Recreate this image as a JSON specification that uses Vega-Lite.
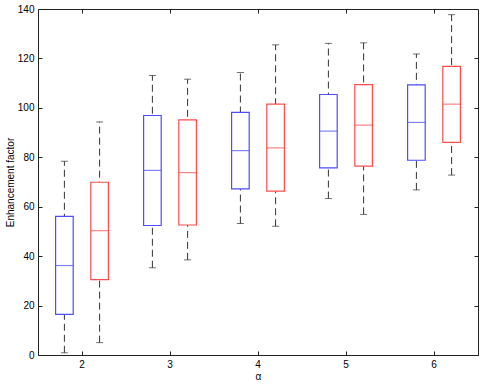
{
  "$schema": "https://vega.github.io/schema/vega-lite/v6.json",
  "width": 440,
  "height": 346,
  "autosize": "none",
  "padding": {"left": 38, "top": 9, "right": 4, "bottom": 30},
  "config": {
    "view": {"stroke": "#222", "strokeWidth": 1},
    "font": "Liberation Sans",
    "axis": {"labelFont": "Liberation Sans", "titleFont": "Liberation Sans", "labelFontSize": 10, "titleFontSize": 10, "titleFontWeight": "normal", "labelColor": "#000", "titleColor": "#000", "tickColor": "#222", "domain": false, "grid": false, "tickSize": -4}
  },
  "data": {"values": [
    {"alpha": "2", "series": "s1", "lower": 0.9, "q1": 16.4, "median": 36.2, "q3": 56.1, "upper": 78.4},
    {"alpha": "2", "series": "s2", "lower": 5.0, "q1": 30.5, "median": 50.3, "q3": 69.9, "upper": 94.3},
    {"alpha": "3", "series": "s1", "lower": 35.3, "q1": 52.4, "median": 74.7, "q3": 96.9, "upper": 113.1},
    {"alpha": "3", "series": "s2", "lower": 38.5, "q1": 52.6, "median": 73.8, "q3": 95.1, "upper": 111.6},
    {"alpha": "4", "series": "s1", "lower": 53.2, "q1": 67.2, "median": 82.7, "q3": 98.2, "upper": 114.3},
    {"alpha": "4", "series": "s2", "lower": 52.1, "q1": 66.3, "median": 83.8, "q3": 101.5, "upper": 125.5},
    {"alpha": "5", "series": "s1", "lower": 63.3, "q1": 75.7, "median": 90.6, "q3": 105.4, "upper": 126.1},
    {"alpha": "5", "series": "s2", "lower": 56.9, "q1": 76.4, "median": 93.0, "q3": 109.4, "upper": 126.3},
    {"alpha": "6", "series": "s1", "lower": 66.8, "q1": 78.8, "median": 94.1, "q3": 109.3, "upper": 121.8},
    {"alpha": "6", "series": "s2", "lower": 72.8, "q1": 86.0, "median": 101.5, "q3": 116.8, "upper": 137.7}
  ]},
  "encoding": {
    "x": {"field": "alpha", "type": "nominal", "scale": {"paddingInner": 0, "paddingOuter": 0}},
    "xOffset": {"field": "series", "type": "nominal", "scale": {"paddingInner": 0.5, "paddingOuter": 0.5}}
  },
  "layer": [
    {
      "mark": {"type": "rule", "color": "#333", "strokeDash": [7, 4], "strokeWidth": 1},
      "encoding": {
        "x": {"field": "alpha", "type": "nominal", "scale": {"paddingInner": 0, "paddingOuter": 0}, "axis": {"orient": "bottom", "title": "α", "labelAngle": 0, "labelPadding": 8, "titlePadding": 2}},
        "y": {"field": "lower", "type": "quantitative", "scale": {"domain": [0, 140], "nice": false}, "axis": {"orient": "left", "title": "Enhancement factor", "values": [0, 20, 40, 60, 80, 100, 120, 140], "labelPadding": 8, "titlePadding": 2}},
        "y2": {"field": "upper"}
      }
    },
    {
      "mark": {"type": "tick", "color": "#333", "size": 7, "thickness": 1},
      "encoding": {
        "x": {"field": "alpha", "type": "nominal", "scale": {"paddingInner": 0, "paddingOuter": 0}, "axis": {"orient": "top", "title": null, "labels": false}},
        "y": {"field": "lower", "type": "quantitative", "axis": {"orient": "right", "title": null, "labels": false, "values": [0, 20, 40, 60, 80, 100, 120, 140]}}
      }
    },
    {
      "mark": {"type": "tick", "color": "#333", "size": 7, "thickness": 1},
      "encoding": {
        "x": {"field": "alpha", "type": "nominal", "scale": {"paddingInner": 0, "paddingOuter": 0}, "axis": null},
        "y": {"field": "upper", "type": "quantitative", "axis": null}
      }
    },
    {
      "mark": {"type": "bar", "fill": "white", "strokeWidth": 1.2},
      "encoding": {
        "x": {"field": "alpha", "type": "nominal", "scale": {"paddingInner": 0, "paddingOuter": 0}, "axis": null},
        "y": {"field": "q1", "type": "quantitative", "axis": null},
        "y2": {"field": "q3"},
        "stroke": {"field": "series", "type": "nominal", "scale": {"domain": ["s1", "s2"], "range": ["#4d4dff", "#ff4d4d"]}, "legend": null}
      }
    },
    {
      "mark": {"type": "tick", "size": 17.6, "thickness": 1.2},
      "encoding": {
        "x": {"field": "alpha", "type": "nominal", "scale": {"paddingInner": 0, "paddingOuter": 0}, "axis": null},
        "y": {"field": "median", "type": "quantitative", "axis": null},
        "color": {"field": "series", "type": "nominal", "scale": {"domain": ["s1", "s2"], "range": ["#4d4dff", "#ff4d4d"]}, "legend": null}
      }
    }
  ],
  "resolve": {"axis": {"x": "independent", "y": "independent"}}
}
